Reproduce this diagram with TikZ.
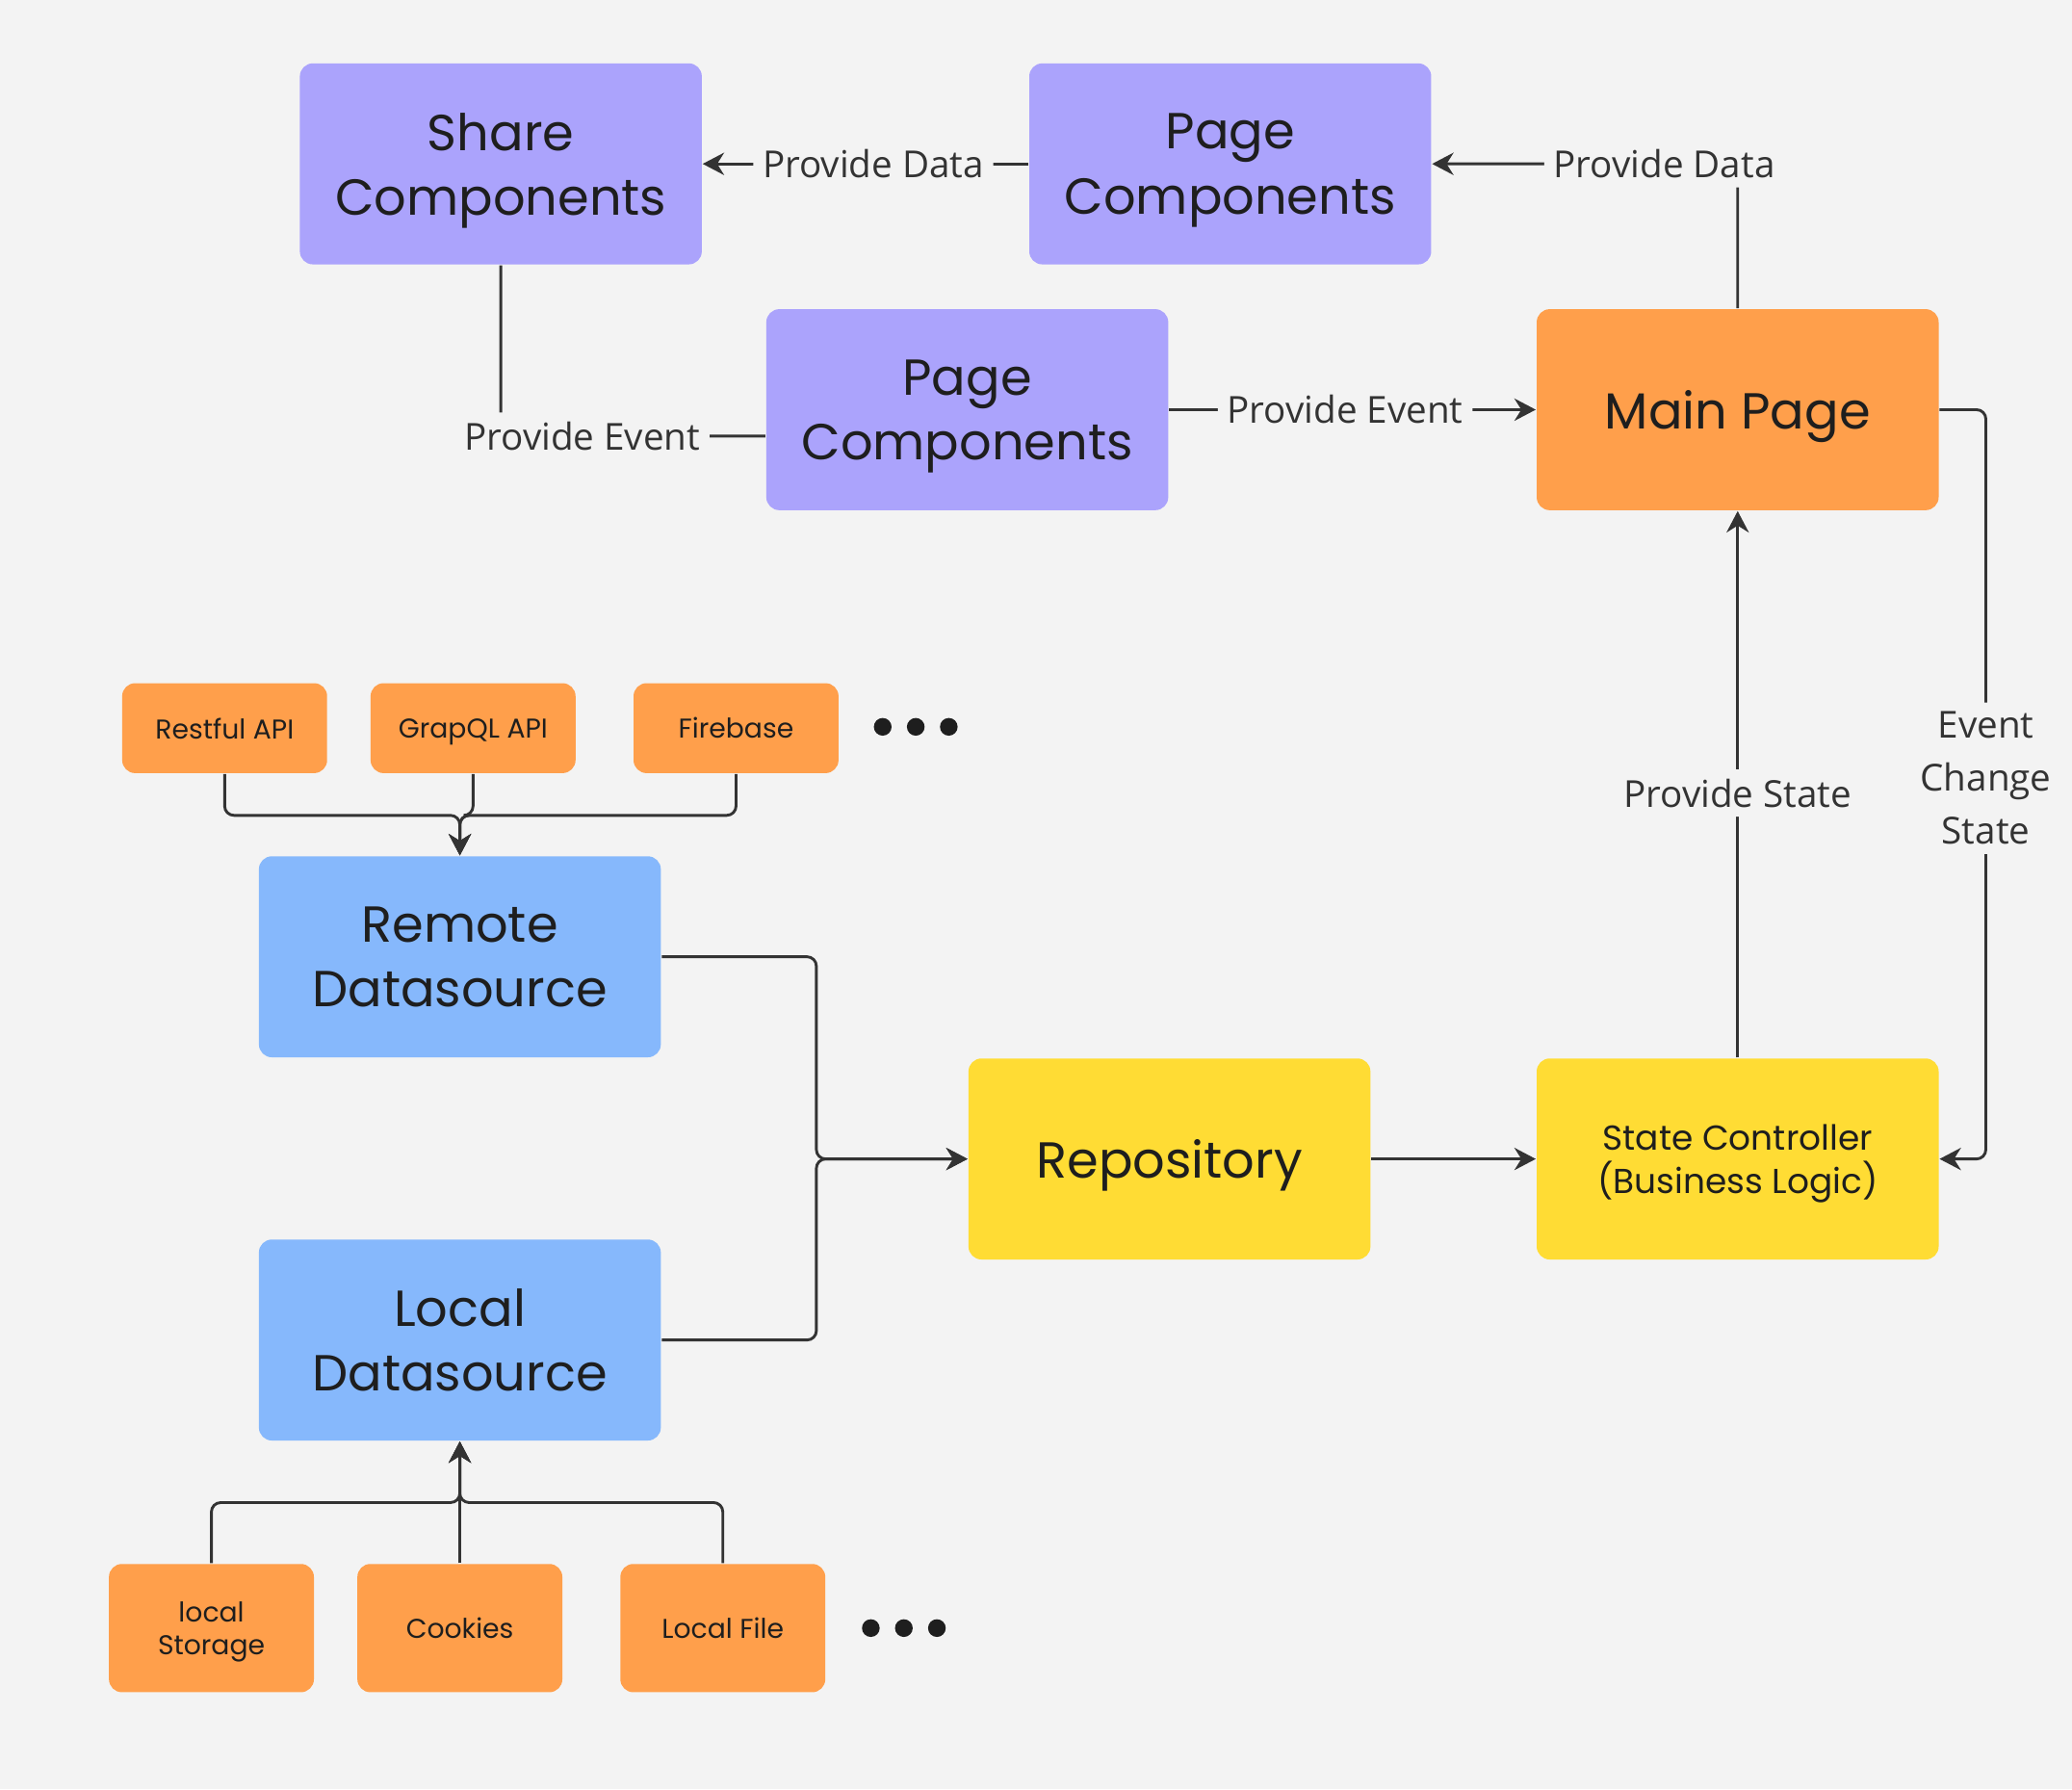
\documentclass[tikz,border=0pt]{standalone}
\usepackage{fontspec}
\setmainfont{Open Sans}
\newfontfamily\boxfont{Poppins}
\usetikzlibrary{arrows.meta}
\definecolor{bgcol}{HTML}{F3F3F3}
\definecolor{purp}{HTML}{ABA3FC}
\definecolor{orng}{HTML}{FF9F4B}
\definecolor{blu}{HTML}{86B8FC}
\definecolor{yel}{HTML}{FFDC34}
\definecolor{linecol}{HTML}{333333}
\definecolor{txtcol}{HTML}{1E1E1E}
\tikzset{% styles for the boxes, the edge labels and the connectors
   cbox/.style={rounded corners=2.8pt, align=center, inner sep=0pt, text depth=0pt,
                text=txtcol},
   bigbox/.style={cbox, minimum width=3.04cm, minimum height=1.52cm,
                  font=\boxfont\fontsize{10.9}{13.9}\selectfont},
   srcbox/.style={cbox, fill=orng, minimum width=1.55cm, minimum height=0.68cm,
                  font=\boxfont\fontsize{5.85}{7.1}\selectfont},
   storebox/.style={srcbox, minimum height=0.97cm},
   lbl/.style={fill=bgcol, text=linecol, inner sep=2pt, align=center,
               font=\fontsize{8}{11.4}\selectfont},
   wire/.style={draw=linecol, line width=0.6pt, rounded corners=2pt},
   link/.style={wire, -{Stealth[length=4.6pt, width=4.8pt]}}
}
\begin{document}
\begin{tikzpicture}[x=0.01cm, y=-0.01cm]
   \fill[bgcol] (0,0) rectangle (1568,1354);
   \useasboundingbox (0,0) rectangle (1568,1354);
   % pages and components
   \node[bigbox, fill=purp] (share) at (379,124) {Share\\Components};
   \node[bigbox, fill=purp] (pagetop) at (931,124) {Page\\Components};
   \node[bigbox, fill=purp] (pagemid) at (732,310) {Page\\Components};
   \node[bigbox, fill=orng] (main) at (1315,310) {Main Page};
   % data sources
   \node[srcbox] (rest) at (170,551) {Restful API};
   \node[srcbox] (gql) at (358,551) {GrapQL API};
   \node[srcbox] (fire) at (557,551) {Firebase};
   \node[bigbox, fill=blu] (remote) at (348,724) {Remote\\Datasource};
   \node[bigbox, fill=blu] (local) at (348,1014) {Local\\Datasource};
   \node[storebox] (lstore) at (160,1232) {local\\Storage};
   \node[storebox] (cookies) at (348,1232) {Cookies};
   \node[storebox] (lfile) at (547,1232) {Local File};
   \node[bigbox, fill=yel] (repo) at (885,877) {Repository};
   \node[bigbox, fill=yel, font=\boxfont\fontsize{7.45}{9.4}\selectfont]
        (state) at (1315,877) {State Controller\\(Business Logic)};
   \foreach \x in {668,693,718} {
      \filldraw[txtcol] (\x,550) circle (1.7pt);
   }
   \foreach \x in {659,684,709} {
      \filldraw[txtcol] (\x,1232) circle (1.7pt);
   }
   \coordinate (rjoin) at (348,617);
   \coordinate (ljoin) at (348,1137);
   % connectors
   \draw[link] (pagetop) -- node[lbl, pos=0.476] {Provide Data} (share);
   \draw[link] (main.north) |- node[lbl, pos=0.62] {Provide Data} (pagetop);
   \draw[wire] (share.south) |- node[lbl, pos=0.654] {Provide Event}
        ([yshift=-0.2cm]pagemid.west);
   \draw[link] (pagemid) -- node[lbl, pos=0.48] {Provide Event} (main);
   \draw[link] (main.east) -- ++(35,0) |- node[lbl, pos=0.246] {Event\\Change\\State}
        (state.east);
   \draw[link] (state) -- node[lbl, pos=0.484] {Provide State} (main);
   \draw[link] (repo) -- (state);
   \draw[link] (remote.east) -- ++(117,0) |- (repo.west);
   \draw[link] (local.east) -- ++(117,0) |- (repo.west);
   \foreach \s in {rest,gql,fire} {
      \draw[link] (\s.south) |- (rjoin) -- (remote.north);
   }
   \foreach \s in {lstore,lfile} {
      \draw[link] (\s.north) |- (ljoin) -- (local.south);
   }
   \draw[link] (cookies) -- (local);
\end{tikzpicture}
\end{document}
